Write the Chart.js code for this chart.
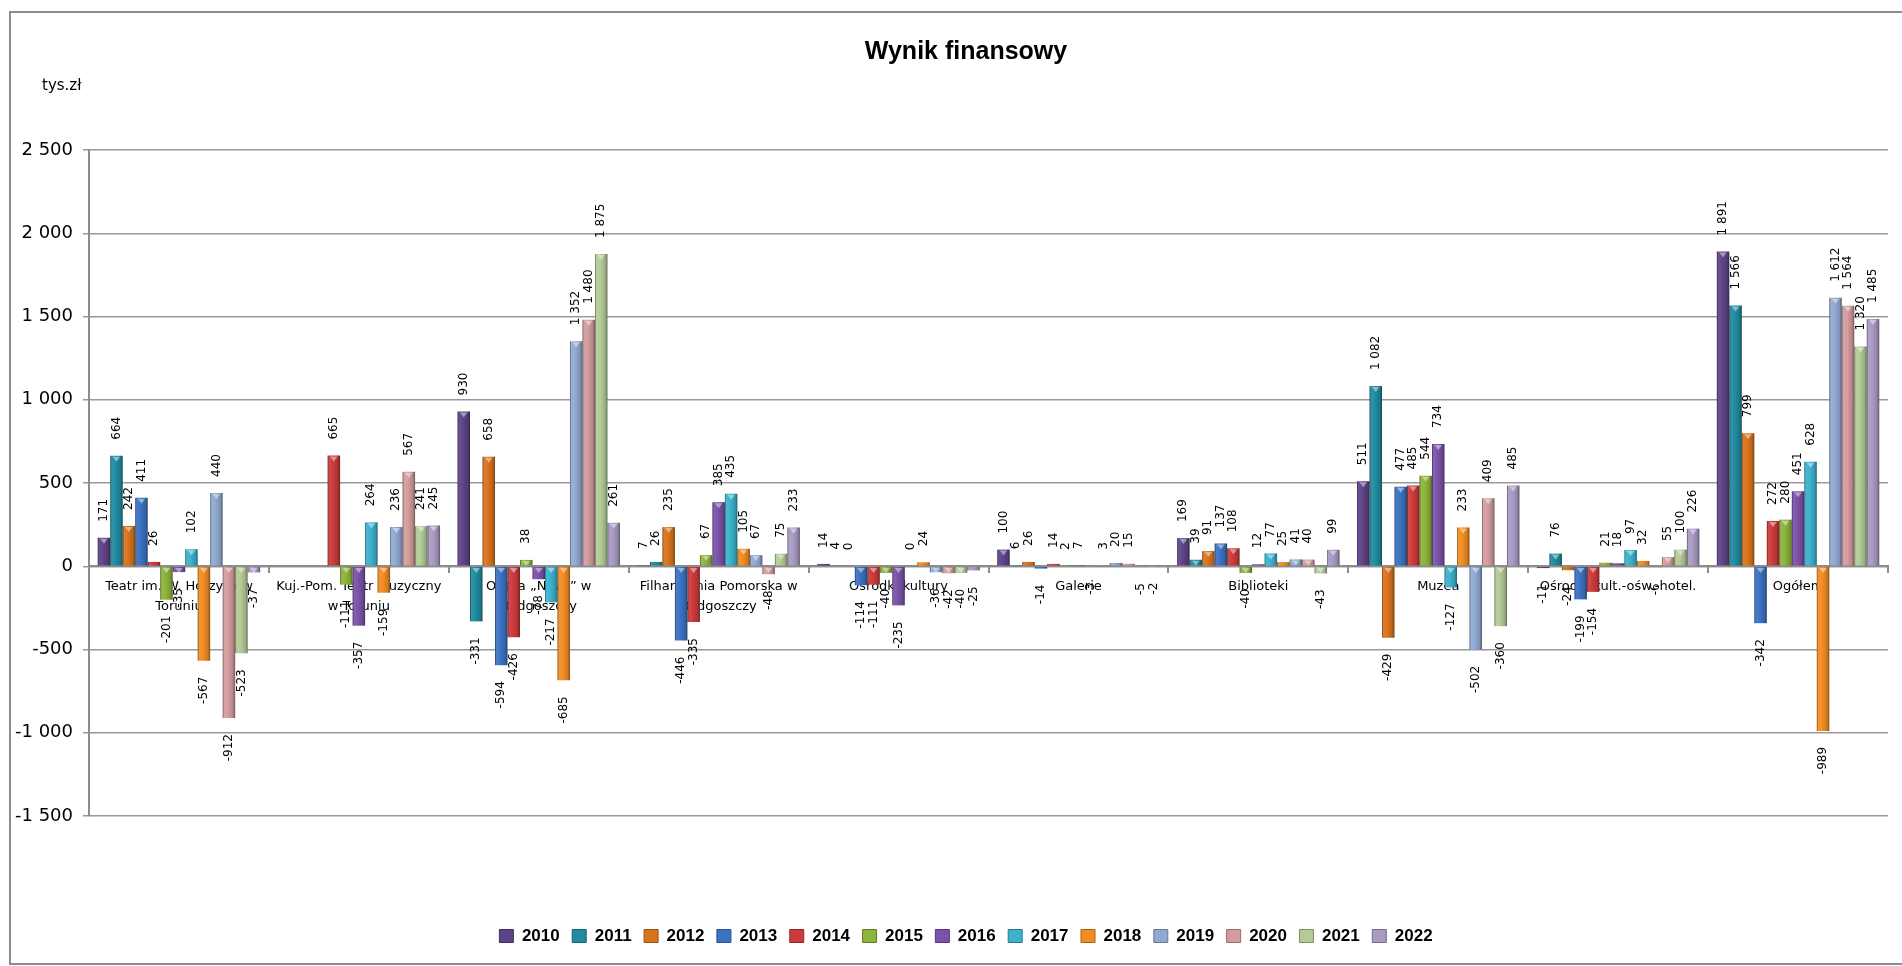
<!DOCTYPE html>
<html>
<head>
<meta charset="utf-8">
<script src="https://cdn.jsdelivr.net/npm/chart.js@4.4.1/dist/chart.umd.min.js"></script>
<style>
html,body{margin:0;padding:0;background:#fff;}
#wrap{width:1902px;height:966px;position:relative;}
</style>
</head>
<body>
<div id="wrap"><canvas id="c"></canvas></div>
<script>
const categories = [
  ["Teatr im. W. Horzycy w", "Toruniu"],
  ["Kuj.-Pom. Teatr Muzyczny", "w Toruniu"],
  ["Opera „Nova” w", "Bydgoszczy"],
  ["Filharmonia Pomorska w", "Bydgoszczy"],
  "Ośrodki kultury",
  "Galerie",
  "Biblioteki",
  "Muzea",
  "Ośrodki kult.-ośw.-hotel.",
  "Ogółem"
];
const years = ["2010","2011","2012","2013","2014","2015","2016","2017","2018","2019","2020","2021","2022"];

const v2010 = [171, null, 930, 7, 14, 100, 169, 511, -11, 1891];
const v2011 = [664, null, -331, 26, 4, 6, 39, 1082, 76, 1566];
const v2012 = [242, null, 658, 235, 0, 26, 91, -429, -24, 799];
const v2013 = [411, null, -594, -446, -114, -14, 137, 477, -199, -342];
const v2014 = [26, 665, -426, -335, -111, 14, 108, 485, -154, 272];
const v2015 = [-201, -111, 38, 67, -40, 2, -40, 544, 21, 280];
const v2016 = [-35, -357, -78, 385, -235, 7, 12, 734, 18, 451];
const v2017 = [102, 264, -217, 435, 0, -3, 77, -127, 97, 628];
const v2018 = [-567, -159, -685, 105, 24, 3, 25, 233, 32, -989];
const v2019 = [440, 236, 1352, 67, -36, 20, 41, -502, -6, 1612];
const v2020 = [-912, 567, 1480, -48, -42, 15, 40, 409, 55, 1564];
const v2021 = [-523, 241, 1875, 75, -40, -5, -43, -360, 100, 1320];
const v2022 = [-37, 245, 261, 233, -25, -2, 99, 485, 226, 1485];
const seriesValues = [v2010, v2011, v2012, v2013, v2014, v2015, v2016, v2017, v2018, v2019, v2020, v2021, v2022];

const yMin = -1500, yMax = 2500, yStep = 500;

const colors = ["#5f4387","#218ba0","#d9731c","#3b72c2","#cc3b3b","#8db43c","#7b52a9","#3cb2cd","#f28d22","#91a9d2","#d49c9e","#b4cb97","#a99bc4"];

function fmt(v) {
  const s = String(Math.abs(v)).replace(/\B(?=(\d{3})+(?!\d))/g, " ");
  return (v < 0 ? "-" : "") + s;
}
function shade(hex, f) {
  let r = parseInt(hex.substr(1,2),16), g = parseInt(hex.substr(3,2),16), b = parseInt(hex.substr(5,2),16);
  if (f <= 1) { r *= f; g *= f; b *= f; }
  else { const t = f - 1; r += (255 - r) * t; g += (255 - g) * t; b += (255 - b) * t; }
  return "rgb(" + Math.round(r) + "," + Math.round(g) + "," + Math.round(b) + ")";
}
function barFill(c) {
  const base = colors[c.datasetIndex];
  const el = c.element;
  if (c.type !== "data" || !el || !isFinite(el.x) || !el.width) return base;
  const g = c.chart.ctx.createLinearGradient(el.x - el.width / 2, 0, el.x + el.width / 2, 0);
  g.addColorStop(0, shade(base, 0.55));
  g.addColorStop(0.12, shade(base, 1.08));
  g.addColorStop(0.45, base);
  g.addColorStop(0.82, shade(base, 0.85));
  g.addColorStop(1, shade(base, 0.55));
  return g;
}

// width of the widest y tick label (used to right-align mirrored labels left of the axis)
const yTickFont = { family: "DejaVu Sans", size: 18 };
const mctx = document.createElement("canvas").getContext("2d");
mctx.font = yTickFont.size + "px " + yTickFont.family;
let widestY = 0;
for (let v = yMin; v <= yMax; v += yStep) widestY = Math.max(widestY, mctx.measureText(fmt(v)).width);

const decorPlugin = {
  id: "decor",
  afterDatasetsDraw(chart) {
    const ctx = chart.ctx;
    ctx.save();
    chart.data.datasets.forEach((ds, di) => {
      const meta = chart.getDatasetMeta(di);
      meta.data.forEach((el, i) => {
        const v = ds.data[i];
        if (v === null || v === undefined) return;
        const top = Math.min(el.y, el.base);
        const h = Math.abs(el.base - el.y);
        if (h < 5) return;
        const w = el.width;
        ctx.fillStyle = "rgba(255,255,255,0.45)";
        ctx.beginPath();
        ctx.moveTo(el.x - w * 0.3, top + 1);
        ctx.lineTo(el.x + w * 0.3, top + 1);
        ctx.lineTo(el.x, top + 6);
        ctx.closePath();
        ctx.fill();
      });
    });
    ctx.font = '12px "DejaVu Sans"';
    ctx.fillStyle = "#000";
    ctx.textBaseline = "middle";
    chart.data.datasets.forEach((ds, di) => {
      const meta = chart.getDatasetMeta(di);
      meta.data.forEach((el, i) => {
        const v = ds.data[i];
        if (v === null || v === undefined) return;
        const pos = v >= 0;
        ctx.save();
        ctx.translate(el.x, pos ? el.y - 16 : el.y + 16);
        ctx.rotate(-Math.PI / 2);
        ctx.textAlign = pos ? "left" : "right";
        ctx.fillText(fmt(v), 0, 0);
        ctx.restore();
      });
    });
    ctx.restore();
  },
  afterDraw(chart) {
    const ctx = chart.ctx;
    ctx.save();
    ctx.strokeStyle = "#8c8c8c";
    ctx.lineWidth = 2;
    ctx.strokeRect(10, 12, 1900, 952);
    ctx.font = '15px "DejaVu Sans"';
    ctx.fillStyle = "#000";
    ctx.textAlign = "left";
    ctx.textBaseline = "middle";
    ctx.fillText("tys.zł", 42, 86);
    ctx.restore();
  }
};

const datasets = years.map((y, i) => ({
  label: y,
  data: seriesValues[i],
  backgroundColor: barFill,
  borderWidth: 0,
  categoryPercentage: 0.903,
  barPercentage: 1.0
}));

const chart = new Chart(document.getElementById("c"), {
  type: "bar",
  data: { labels: categories, datasets },
  options: {
    responsive: true,
    maintainAspectRatio: false,
    animation: false,
    events: [],
    layout: { padding: { top: 0, left: 44, right: 14, bottom: 11.5 } },
    plugins: {
      title: {
        display: true,
        text: "Wynik finansowy",
        color: "#000",
        font: { family: "Liberation Sans", size: 25, weight: "bold", lineHeight: 1.2 },
        padding: { top: 37, bottom: 83 }
      },
      legend: {
        display: true,
        position: "bottom",
        title: { display: true, text: "", font: { size: 12, lineHeight: 1.2 }, padding: { top: 84.6, bottom: 0 } },
        labels: {
          boxWidth: 14,
          boxHeight: 13,
          padding: 12.5,
          color: "#000",
          font: { family: "Liberation Sans", size: 17, weight: "bold" },
          generateLabels: (ch) => ch.data.datasets.map((ds, i) => ({
            text: ds.label,
            fillStyle: colors[i],
            strokeStyle: shade(colors[i], 0.7),
            lineWidth: 1,
            fontColor: "#000",
            hidden: false,
            datasetIndex: i
          }))
        }
      },
      tooltip: { enabled: false }
    },
    scales: {
      x: {
        type: "category",
        position: { y: 0 },
        offset: true,
        z: 1,
        grid: { display: true, drawOnChartArea: false, drawTicks: true, tickLength: 6, offset: true, color: "#8c8c8c", lineWidth: 2 },
        border: { display: true, color: "#8c8c8c", width: 2 },
        ticks: {
          autoSkip: false,
          maxRotation: 0,
          minRotation: 0,
          padding: 5,
          color: "#000",
          font: { family: "DejaVu Sans", size: 13, lineHeight: 1.5 }
        }
      },
      y: {
        min: yMin,
        max: yMax,
        afterFit(s) { s.width = 45; },
        grid: { color: "#999999", lineWidth: 1.5, tickLength: 6 },
        border: { display: true, color: "#8c8c8c", width: 2 },
        ticks: {
          stepSize: yStep,
          mirror: true,
          crossAlign: "far",
          padding: -16 - widestY,
          color: "#000",
          font: yTickFont,
          callback: (v) => fmt(v)
        }
      }
    }
  },
  plugins: [decorPlugin]
});
chart.update("none");
</script>
</body>
</html>
